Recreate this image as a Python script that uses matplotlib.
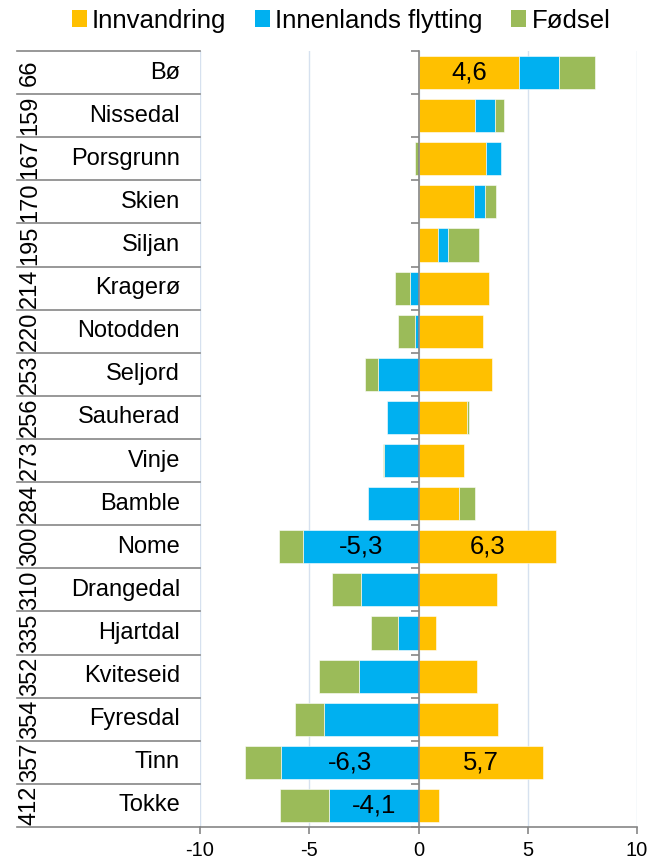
import matplotlib
matplotlib.use("Agg")
import matplotlib.pyplot as plt
import matplotlib.transforms as mtransforms
from matplotlib.patches import Patch
import numpy as np

plt.rcParams['font.family'] = ['Liberation Sans', 'DejaVu Sans']

# data
kommuner = ["Bø", "Nissedal", "Porsgrunn", "Skien", "Siljan", "Kragerø", "Notodden",
            "Seljord", "Sauherad", "Vinje", "Bamble", "Nome", "Drangedal", "Hjartdal",
            "Kviteseid", "Fyresdal", "Tinn", "Tokke"]
rangering = [66, 159, 167, 170, 195, 214, 220, 253, 256, 273, 284, 300, 310, 335,
             352, 354, 357, 412]
innvandring = [4.6, 2.6, 3.1, 2.53, 0.88, 3.23, 2.96, 3.36, 2.24, 2.07, 1.84, 6.3,
               3.6, 0.78, 2.68, 3.64, 5.7, 0.93]
innenlands = [1.83, 0.88, 0.69, 0.53, 0.46, -0.37, -0.15, -1.85, -1.46, -1.59, -2.33,
              -5.3, -2.62, -0.93, -2.71, -4.33, -6.3, -4.1]
fodsel = [1.65, 0.43, -0.15, 0.47, 1.43, -0.7, -0.81, -0.58, 0.06, -0.03, 0.75, -1.1,
          -1.36, -1.25, -1.86, -1.34, -1.62, -2.24]
serier = ["Innvandring", "Innenlands flytting", "Fødsel"]
farger = ["#FFC000", "#00B0F0", "#9BBB59"]
# segments that carry a value label in the original
merket = {"Innvandring": ["Bø", "Nome", "Tinn"],
          "Innenlands flytting": ["Nome", "Tinn", "Tokke"],
          "Fødsel": []}

W, H = 662, 861
fig = plt.figure(figsize=(W / 100, H / 100), dpi=100)
ax = fig.add_axes([200 / W, 34 / H, 437 / W, 776 / H])

y = np.arange(len(kommuner))
pos_base = np.zeros(len(kommuner))
neg_base = np.zeros(len(kommuner))
for navn, verdier, farge in zip(serier, [innvandring, innenlands, fodsel], farger):
    v = np.array(verdier)
    base = np.where(v >= 0, pos_base, neg_base)
    ax.barh(y, v, left=base, height=0.77, color=farge, edgecolor="white",
            linewidth=0.4, zorder=3)
    for i, k in enumerate(kommuner):
        if k in merket[navn]:
            ax.text(base[i] + v[i] / 2, i, f"{v[i]:.1f}".replace(".", ","),
                    ha="center", va="center", fontsize=18.5, zorder=4)
    pos_base = pos_base + np.where(v >= 0, v, 0)
    neg_base = neg_base + np.where(v < 0, v, 0)

ax.set_xlim(-10, 10)
ax.set_ylim(len(kommuner) - 0.5, -0.5)
ax.set_xticks([-10, -5, 0, 5, 10])
ax.set_xticklabels(["-10", "-5", "0", "5", "10"])
ax.grid(axis="x", color="#D6E1EF", linewidth=1.0, zorder=0)
ax.set_axisbelow(True)

grey = "#868686"
for s in ["top", "right"]:
    ax.spines[s].set_visible(False)
ax.spines["bottom"].set_color(grey)
ax.spines["bottom"].set_linewidth(1.2)
ax.spines["left"].set_position(("data", 0))
ax.spines["left"].set_color(grey)
ax.spines["left"].set_linewidth(1.2)
ax.spines["left"].set_zorder(5)
ax.set_yticks(np.arange(-0.5, len(kommuner), 1))
ax.tick_params(axis="y", length=6, color=grey, width=1.2, labelleft=False)
ax.tick_params(axis="x", length=5, color=grey, width=1.2, labelsize=14.5, pad=5)

# multi-level category labels on the left
trans = mtransforms.blended_transform_factory(ax.transAxes, ax.transData)
x_left = (17 - 200) / 437
for b in np.arange(-0.5, len(kommuner), 1):
    ax.plot([x_left, 0], [b, b], color=grey, linewidth=1.2, transform=trans,
            clip_on=False, zorder=5)
for i, (k, r) in enumerate(zip(kommuner, rangering)):
    ax.text(-20 / 437, i, k, ha="right", va="center", fontsize=17, transform=trans)
    ax.text((30 - 200) / 437, i, str(r), ha="center", va="center", fontsize=17,
            rotation=90, transform=trans)

handles = [Patch(facecolor=f, edgecolor="none") for f in farger]
fig.legend(handles, serier, loc="upper center", bbox_to_anchor=(341 / W, 1.002),
           ncol=3, frameon=False, fontsize=18.5, handlelength=0.6, handleheight=0.6,
           handletextpad=0.2, columnspacing=1.1, borderaxespad=0)

fig.savefig("out.png", dpi=100)
